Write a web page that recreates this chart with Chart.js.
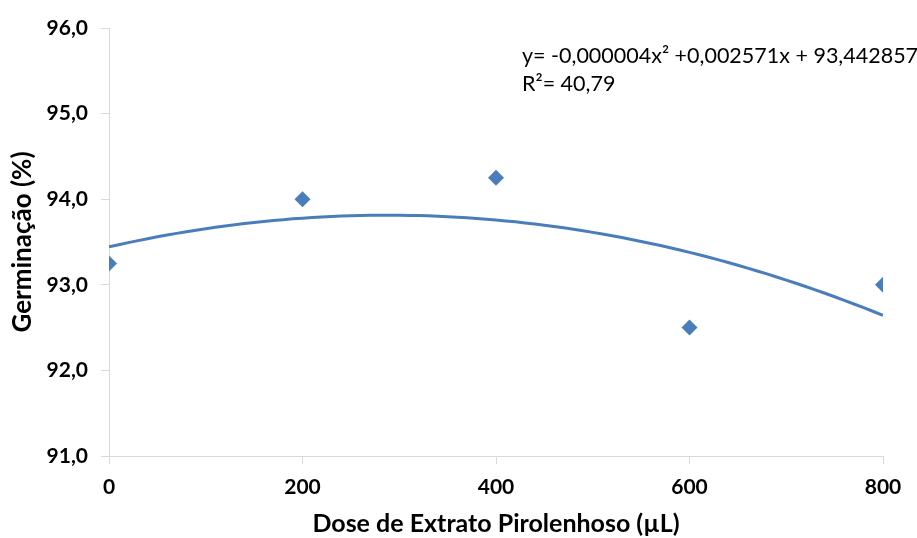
<!DOCTYPE html>
<html>
<head>
<meta charset="utf-8">
<script src="https://cdn.jsdelivr.net/npm/chart.js@4/dist/chart.umd.min.js"></script>
<style>
html,body{margin:0;padding:0;background:#fff;}
#wrap{position:relative;width:917px;height:538px;}
</style>
</head>
<body>
<div id="wrap"><canvas id="c" width="917" height="538"></canvas></div>
<script>
// Data
const doses = [0, 200, 400, 600, 800];
const germination = [93.25, 94.0, 94.25, 92.5, 93.0];
const xTicks = [0, 200, 400, 600, 800];
const yTicks = [91, 92, 93, 94, 95, 96];
const equationText = "y= -0,000004x\u00B2 +0,002571x + 93,442857";
const r2Text = "R\u00B2= 40,79";
const xTitle = "Dose de Extrato Pirolenhoso (\u00B5L)";
const yTitle = "Germinação (%)";

// Polynomial (order 2) trendline: least-squares fit of the data
function quadFit(xs, ys) {
  let n = xs.length, s = [0,0,0,0,0], t = [0,0,0];
  for (let i = 0; i < n; i++) {
    let p = 1;
    for (let k = 0; k < 5; k++) { s[k] += p; if (k < 3) t[k] += p * ys[i]; p *= xs[i]; }
  }
  const A = [[s[0], s[1], s[2], t[0]], [s[1], s[2], s[3], t[1]], [s[2], s[3], s[4], t[2]]];
  for (let i = 0; i < 3; i++) {
    for (let j = i + 1; j < 3; j++) {
      const f = A[j][i] / A[i][i];
      for (let k = i; k < 4; k++) A[j][k] -= f * A[i][k];
    }
  }
  const c = [0,0,0];
  for (let i = 2; i >= 0; i--) {
    let v = A[i][3];
    for (let k = i + 1; k < 3; k++) v -= A[i][k] * c[k];
    c[i] = v / A[i][i];
  }
  return c;
}
const coef = quadFit(doses, germination);
const trend = [];
for (let x = doses[0]; x <= doses[doses.length - 1]; x += 10) {
  trend.push({x: x, y: coef[0] + coef[1] * x + coef[2] * x * x});
}

const blue = '#4a7ebb';
const axisGray = '#d9d9d9';
const tickFont = {family: 'Lato', size: 21, weight: 'bold'};

const eqPlugin = {
  id: 'eq',
  afterDraw(chart) {
    const ctx = chart.ctx;
    ctx.save();
    ctx.fillStyle = '#000';
    ctx.font = '21.5px Lato';
    ctx.textBaseline = 'middle';
    ctx.textAlign = 'left';
    ctx.fillText(equationText, 522, 56);
    ctx.fillText(r2Text, 522, 84);
    ctx.restore();
  }
};

new Chart(document.getElementById('c'), {
  type: 'scatter',
  data: {
    datasets: [
      {
        data: doses.map((d, i) => ({x: d, y: germination[i]})),
        pointStyle: 'rectRot',
        pointRadius: 8,
        pointHoverRadius: 8,
        backgroundColor: blue,
        borderColor: blue,
        borderWidth: 0,
        order: 0
      },
      {
        data: trend,
        showLine: true,
        borderColor: blue,
        borderWidth: 3,
        pointRadius: 0,
        tension: 0,
        fill: false,
        order: 1
      }
    ]
  },
  options: {
    responsive: false,
    animation: false,
    events: [],
    layout: {padding: {left: 0, right: 34, top: 28, bottom: 0}},
    plugins: {legend: {display: false}, tooltip: {enabled: false}},
    scales: {
      x: {
        type: 'linear',
        min: 0, max: 800,
        afterBuildTicks(s) { s.ticks = xTicks.map(v => ({value: v})); },
        afterFit(s) { s.height = 82; },
        grid: {drawOnChartArea: false, drawTicks: true, tickLength: 8, color: axisGray, lineWidth: 1},
        border: {display: true, color: axisGray, width: 1},
        ticks: {font: tickFont, color: '#000', padding: 11, maxRotation: 0,
          callback: v => String(v)},
        title: {display: true, text: xTitle, font: {family: 'Lato', size: 25, weight: 'bold'}, color: '#000', padding: {top: 0, bottom: -1}}
      },
      y: {
        type: 'linear',
        min: 91, max: 96,
        afterBuildTicks(s) { s.ticks = yTicks.map(v => ({value: v})); },
        afterFit(s) { s.width = 109; },
        grid: {drawOnChartArea: false, drawTicks: true, tickLength: 8, color: axisGray, lineWidth: 1},
        border: {display: true, color: axisGray, width: 1},
        ticks: {font: tickFont, color: '#000', padding: 13,
          callback: v => v.toFixed(1).replace('.', ',')},
        title: {display: true, text: yTitle, font: {family: 'Lato', size: 26, weight: 'bold'}, color: '#000', padding: {top: 7, bottom: 0}}
      }
    }
  },
  plugins: [eqPlugin]
});
</script>
</body>
</html>
